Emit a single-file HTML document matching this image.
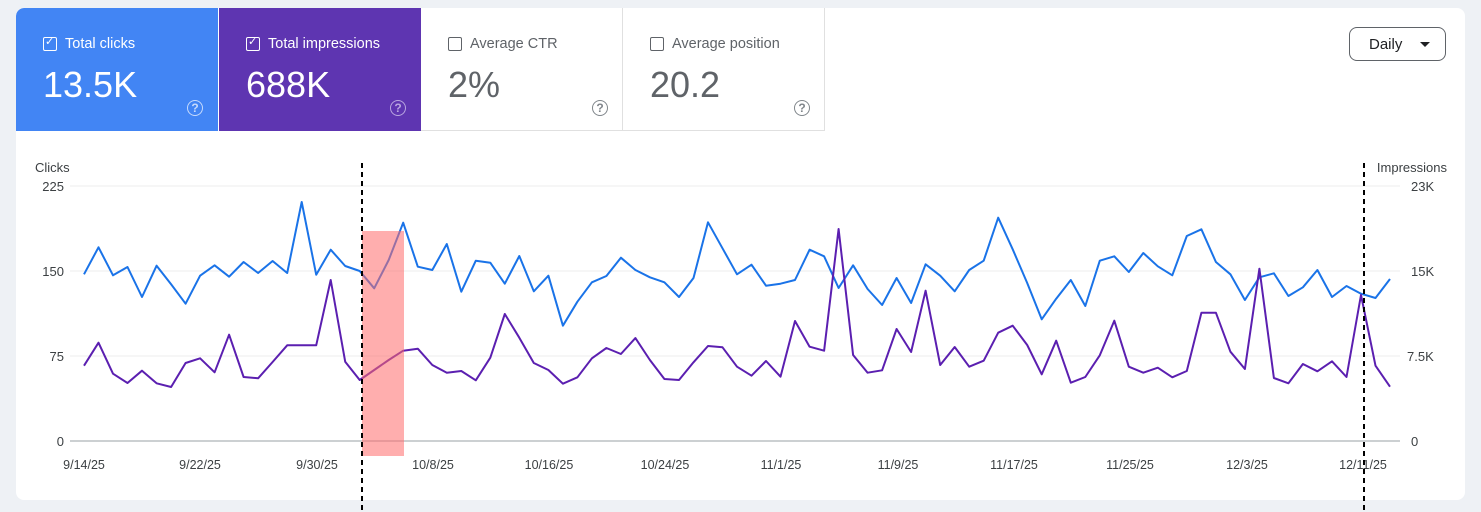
<!DOCTYPE html>
<html><head><meta charset="utf-8">
<style>
body{margin:0;width:1481px;height:512px;background:#eef1f5;font-family:"Liberation Sans",Arial,sans-serif;overflow:hidden;position:relative}
.card{position:absolute;left:16px;top:8px;width:1449px;height:492px;background:#fff;border-radius:8px;overflow:hidden}
.tile{position:absolute;top:0;height:123px;width:202px;box-sizing:border-box}
.lab{position:absolute;left:27px;top:28px;font-size:14.5px;display:flex;align-items:center}
.cb{width:12px;height:12px;border:1.5px solid currentColor;border-radius:2px;margin-right:8px;position:relative}
.num{position:absolute;left:27px;top:56px;font-size:36px}
.q{position:absolute;left:171px;top:92px;width:14px;height:14px;border:1.5px solid currentColor;border-radius:50%;font-size:12px;text-align:center;line-height:14px;font-weight:bold}
</style></head><body>
<div class="card">
 <div class="tile" style="left:0;background:#4285f4;color:#fff;border-top-left-radius:8px">
  <div class="lab"><span class="cb"><span style="position:absolute;left:1px;top:-3px;font-size:11px">✓</span></span>Total clicks</div>
  <div class="num">13.5K</div><div class="q" style="color:#c6dafc">?</div></div>
 <div class="tile" style="left:203px;background:#5e35b1;color:#fff">
  <div class="lab"><span class="cb"><span style="position:absolute;left:1px;top:-3px;font-size:11px">✓</span></span>Total impressions</div>
  <div class="num">688K</div><div class="q" style="color:#b9a6e0">?</div></div>
 <div class="tile" style="left:405px;border-right:1px solid #e0e0e0;border-bottom:1px solid #e0e0e0;color:#5f6368">
  <div class="lab"><span class="cb"></span>Average CTR</div>
  <div class="num" style="color:#5f6368">2%</div><div class="q" style="color:#80868b">?</div></div>
 <div class="tile" style="left:607px;border-right:1px solid #e0e0e0;border-bottom:1px solid #e0e0e0;color:#5f6368">
  <div class="lab"><span class="cb"></span>Average position</div>
  <div class="num" style="color:#5f6368">20.2</div><div class="q" style="color:#80868b">?</div></div>
 <div style="position:absolute;left:1333px;top:19px;width:97px;height:34px;border:1px solid #5f6368;border-radius:8px;font-size:15px;color:#202124;box-sizing:border-box;padding:8px 0 0 19px">Daily<span style="position:absolute;left:70px;top:14px;border-left:5px solid transparent;border-right:5px solid transparent;border-top:5px solid #202124"></span></div>
</div>
<svg id="s" width="1481" height="512" style="position:absolute;left:0;top:0" font-family="Liberation Sans, Arial, sans-serif" font-size="13" fill="#3c4043">
 <line x1="70" x2="1400" y1="186" y2="186" stroke="#ececec"/>
 <line x1="70" x2="1400" y1="271" y2="271" stroke="#ececec"/>
 <line x1="70" x2="1400" y1="356" y2="356" stroke="#ececec"/>
 <line x1="70" x2="1400" y1="441" y2="441" stroke="#9aa0a6"/>
 <text x="35" y="172">Clicks</text>
 <text x="1447" y="172" text-anchor="end">Impressions</text>
 <g text-anchor="end"><text x="64" y="191">225</text><text x="64" y="276">150</text><text x="64" y="361">75</text><text x="64" y="446">0</text></g>
 <g><text x="1411" y="191">23K</text><text x="1411" y="276">15K</text><text x="1407" y="361">7.5K</text><text x="1411" y="446">0</text></g>
 <g text-anchor="middle" font-size="12.5">
  <text x="84" y="469">9/14/25</text><text x="200" y="469">9/22/25</text><text x="317" y="469">9/30/25</text><text x="433" y="469">10/8/25</text><text x="549" y="469">10/16/25</text><text x="665" y="469">10/24/25</text><text x="781" y="469">11/1/25</text><text x="898" y="469">11/9/25</text><text x="1014" y="469">11/17/25</text><text x="1130" y="469">11/25/25</text><text x="1247" y="469">12/3/25</text><text x="1363" y="469">12/11/25</text>
 </g>
 <polyline id="pb" fill="none" stroke="#1a73e8" stroke-width="2" stroke-linejoin="round"/>
 <polyline id="pp" fill="none" stroke="#5b1fb0" stroke-width="2" stroke-linejoin="round"/>
 <rect x="362" y="231" width="42" height="225" fill="#ff6b6b" opacity="0.55"/>
 <line x1="362" x2="362" y1="163" y2="512" stroke="#000" stroke-width="2" stroke-dasharray="5,4"/>
 <line x1="1364" x2="1364" y1="163" y2="512" stroke="#000" stroke-width="2" stroke-dasharray="5,4"/>
</svg>
<script>
var b=[253,172,256,231,321,227,283,341,257,226,260,216,249,213,249,36,254,179,228,243,295,210,98,230,
240,162,305,212,218,281,198,304,257,407,335,277,258,203,240,262,277,321,264,97,175,253,
224,287,281,270,179,199,294,226,297,345,264,339,223,257,304,240,212,83,178,279,388,326,270,
348,212,199,246,189,229,256,138,118,216,253,330,262,250,318,292,240,321,288,311,324,267];
var p=[527,458,551,579,542,580,591,519,505,547,434,561,565,516,466,466,466,270,515,570,540,510,482,476,
525,548,543,571,503,372,443,519,540,581,562,505,474,492,444,510,567,570,517,468,472,530,
557,513,560,393,470,482,117,495,548,541,417,486,302,525,471,530,512,428,407,465,553,452,578,
561,496,392,530,548,533,562,543,368,368,485,537,236,564,580,522,544,514,561,315,527,590];
function pts(a){return a.map(function(v,i){return (84+i*(1390-84)/(a.length-1)).toFixed(1)+','+(190+v/3).toFixed(1)}).join(' ')}
document.getElementById('pb').setAttribute('points',pts(b));
document.getElementById('pp').setAttribute('points',pts(p));
</script>
</body></html>
